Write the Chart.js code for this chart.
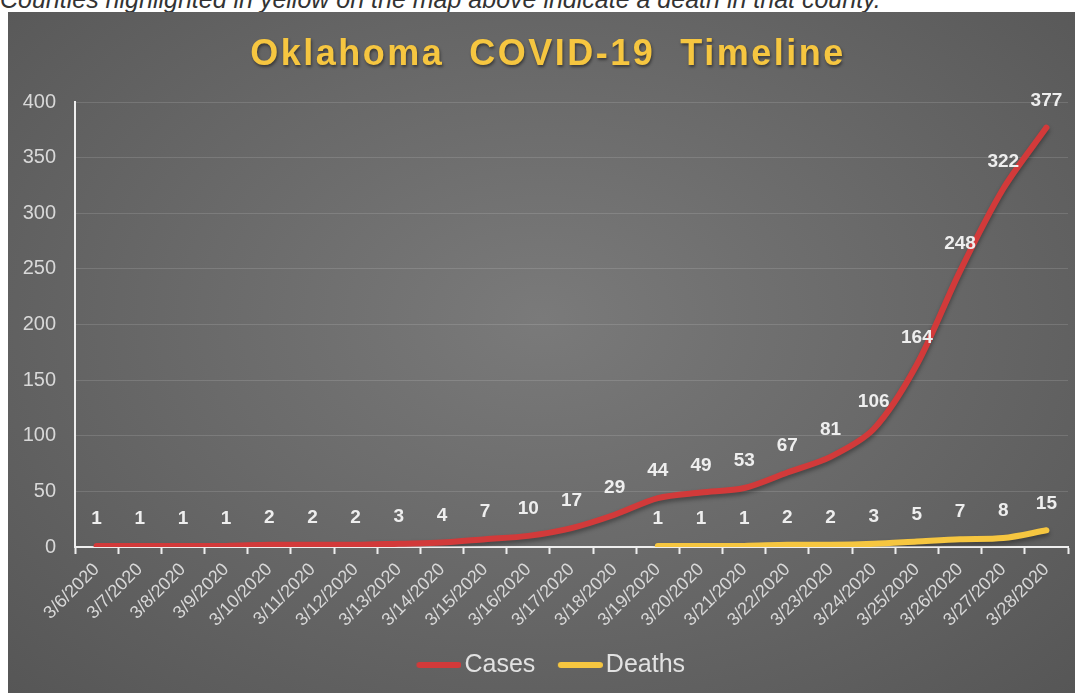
<!DOCTYPE html>
<html lang="en">
<head>
    <meta charset="UTF-8">
    <title>Oklahoma COVID-19 Timeline</title>
    <script src="https://cdn.jsdelivr.net/npm/chart.js"></script>
    <style>
        body {
            margin: 0;
            background: #fff;
            font-family: "Liberation Sans", Arial, sans-serif;
            overflow: hidden;
            width: 1080px;
            height: 693px;
            position: relative;
        }
        .note {
            position: absolute;
            left: 0;
            top: -13px;
            font-size: 25px;
            line-height: 24px;
            font-style: italic;
            color: #333;
            white-space: nowrap;
        }
        .chart-box {
            position: absolute;
            left: 8px;
            top: 12px;
            width: 1067px;
            height: 681px;
            background: radial-gradient(ellipse at 50% 45%, #7a7a7a 0%, #6a6a6a 45%, #565656 100%);
        }
    </style>
</head>
<body>
    <div class="note">Counties highlighted in yellow on the map above indicate a death in that county.</div>
    <div class="chart-box">
        <canvas id="timeline"></canvas>
    </div>

    <script>
        const dates = ['3/6/2020', '3/7/2020', '3/8/2020', '3/9/2020', '3/10/2020', '3/11/2020',
            '3/12/2020', '3/13/2020', '3/14/2020', '3/15/2020', '3/16/2020', '3/17/2020',
            '3/18/2020', '3/19/2020', '3/20/2020', '3/21/2020', '3/22/2020', '3/23/2020',
            '3/24/2020', '3/25/2020', '3/26/2020', '3/27/2020', '3/28/2020'];
        const cases = [1, 1, 1, 1, 2, 2, 2, 3, 4, 7, 10, 17, 29, 44, 49, 53, 67, 81, 106, 164, 248, 322, 377];
        const deaths = [null, null, null, null, null, null, null, null, null, null, null, null, null,
            1, 1, 1, 2, 2, 3, 5, 7, 8, 15];
        const yTicks = [0, 50, 100, 150, 200, 250, 300, 350, 400];

        const FONT = '"Liberation Sans", Arial, sans-serif';

        // legend swatch: a short thick line sitting in the right part of a small canvas,
        // so it ends close to the label text like the original
        function swatch(color) {
            const c = document.createElement('canvas');
            c.width = 67;
            c.height = 6;
            const g = c.getContext('2d');
            g.strokeStyle = color;
            g.lineWidth = 6;
            g.lineCap = 'round';
            g.beginPath();
            g.moveTo(22 + 3, 3);
            g.lineTo(67 - 3, 3);
            g.stroke();
            return c;
        }

        // title with wide letter spacing, drawn by hand
        const titlePlugin = {
            id: 'spacedTitle',
            afterDraw(chart) {
                const ctx = chart.ctx;
                ctx.save();
                ctx.font = 'bold 36px ' + FONT;
                ctx.letterSpacing = '2.5px';
                ctx.fillStyle = '#f6c640';
                ctx.textAlign = 'center';
                ctx.textBaseline = 'middle';
                ctx.shadowColor = 'rgba(0,0,0,0.45)';
                ctx.shadowBlur = 3;
                ctx.shadowOffsetX = 1;
                ctx.shadowOffsetY = 2;
                ctx.fillText('Oklahoma  COVID-19  Timeline', 540, 43);
                ctx.restore();
            }
        };

        // value labels above each point
        const valueLabels = {
            id: 'valueLabels',
            afterDatasetsDraw(chart) {
                const ctx = chart.ctx;
                ctx.save();
                ctx.font = 'bold 19px ' + FONT;
                ctx.fillStyle = '#eeeeee';
                ctx.textAlign = 'center';
                ctx.textBaseline = 'middle';
                chart.data.datasets.forEach((ds, i) => {
                    chart.getDatasetMeta(i).data.forEach((pt, j) => {
                        if (ds.data[j] == null) return;
                        ctx.fillText(ds.data[j], pt.x, pt.y - 27);
                    });
                });
                ctx.restore();
            }
        };

        // soft shadow under the lines
        const lineShadow = {
            id: 'lineShadow',
            beforeDatasetDraw(chart) {
                const ctx = chart.ctx;
                ctx.save();
                ctx.shadowColor = 'rgba(0,0,0,0.35)';
                ctx.shadowBlur = 4;
                ctx.shadowOffsetY = 3;
            },
            afterDatasetDraw(chart) {
                chart.ctx.restore();
            }
        };

        new Chart(document.getElementById('timeline'), {
            type: 'line',
            data: {
                labels: dates,
                datasets: [{
                    label: 'Cases',
                    data: cases,
                    borderColor: '#d23a3a',
                    backgroundColor: '#d23a3a',
                    borderWidth: 6,
                    tension: 0.3,
                    pointRadius: 0,
                    borderCapStyle: 'round',
                    borderJoinStyle: 'round'
                }, {
                    label: 'Deaths',
                    data: deaths,
                    borderColor: '#f6c640',
                    backgroundColor: '#f6c640',
                    borderWidth: 6,
                    tension: 0.3,
                    pointRadius: 0,
                    borderCapStyle: 'round',
                    borderJoinStyle: 'round'
                }]
            },
            options: {
                responsive: true,
                maintainAspectRatio: false,
                animation: false,
                layout: {
                    padding: { top: 90, right: 7, bottom: 5.5, left: 13 }
                },
                plugins: {
                    title: { display: false },
                    tooltip: { enabled: false },
                    legend: {
                        position: 'bottom',
                        labels: {
                            usePointStyle: true,
                            pointStyleWidth: 48,
                            boxHeight: 6,
                            padding: 10,
                            color: '#e2e2e2',
                            font: { family: FONT, size: 25 },
                            generateLabels(chart) {
                                const items = Chart.defaults.plugins.legend.labels.generateLabels(chart);
                                items.forEach((it, i) => {
                                    it.pointStyle = swatch(chart.data.datasets[i].borderColor);
                                });
                                return items;
                            }
                        }
                    }
                },
                scales: {
                    x: {
                        offset: true,
                        afterFit(scale) { scale.height = 95.5; },
                        grid: {
                            offset: true,
                            drawOnChartArea: false,
                            drawTicks: true,
                            tickLength: 7,
                            tickWidth: 2,
                            tickColor: '#eeeeee'
                        },
                        border: { display: true, color: '#eeeeee', width: 2 },
                        ticks: {
                            autoSkip: false,
                            minRotation: 45,
                            maxRotation: 45,
                            padding: 5,
                            color: '#d8d8d8',
                            font: { family: FONT, size: 18 }
                        }
                    },
                    y: {
                        min: 0,
                        max: 400,
                        afterFit(scale) { scale.width = 54; },
                        afterBuildTicks(scale) { scale.ticks = yTicks.map(v => ({ value: v })); },
                        grid: {
                            color: 'rgba(255,255,255,0.13)',
                            lineWidth: 1,
                            drawTicks: false
                        },
                        border: { display: true, color: '#eeeeee', width: 2 },
                        ticks: {
                            padding: 19,
                            color: '#d8d8d8',
                            font: { family: FONT, size: 20 }
                        }
                    }
                }
            },
            plugins: [lineShadow, valueLabels, titlePlugin]
        });
    </script>
</body>
</html>
